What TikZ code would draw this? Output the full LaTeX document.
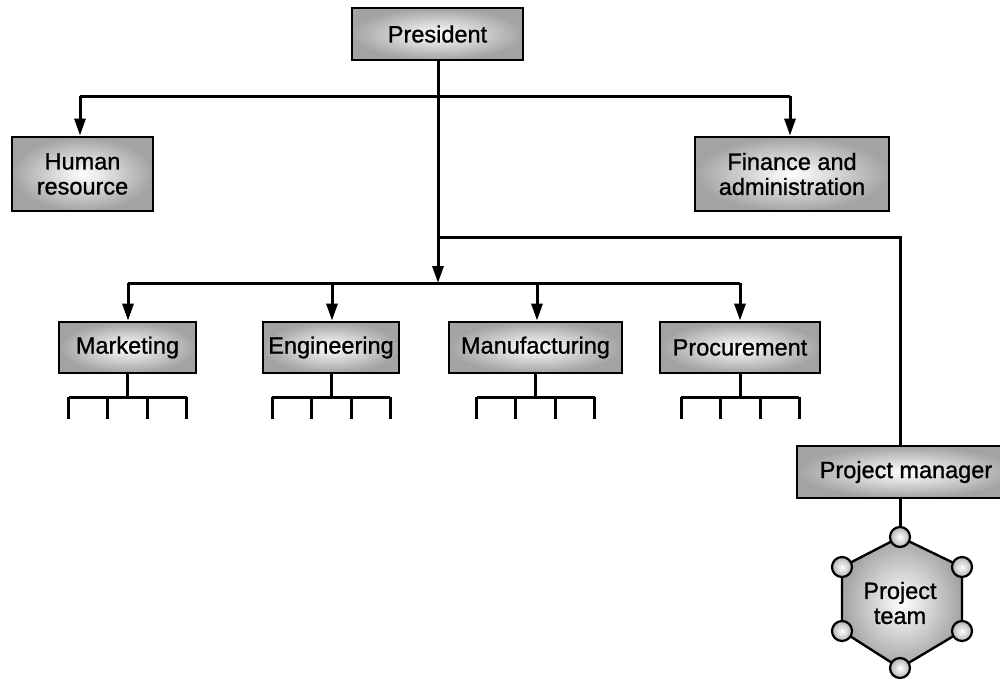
\documentclass[tikz,border=0pt]{standalone}
\usepackage{fontspec}
\setmainfont{Liberation Sans}[FakeBold=1.0]
\usetikzlibrary{arrows.meta}
\begin{document}
\begin{tikzpicture}[x=1pt,y=-1pt,
  line/.style={line width=3pt, line join=miter},
  arr/.style={line, -{Triangle[length=17pt,width=11pt]}},
  lbl/.style={font=\fontsize{23.5}{25}\selectfont, align=center, text=black},
  unit/.style={lbl, draw, line width=2.8pt, rectangle, inner sep=0pt,
    shading=radial, inner color=white, outer color=black!36},
  dot/.style={circle, draw, line width=2.2pt, minimum size=20pt, inner sep=0pt,
    shading=radial, inner color=white, outer color=black!30},
]
\useasboundingbox (0,0) rectangle (1000,681);

% top level
\node[unit, minimum width=171pt, minimum height=52pt] (pres) at (437.5,34) {President};
\node[unit, minimum width=141pt, minimum height=74pt] (hr) at (82.5,174) {Human\\resource};
\node[unit, minimum width=194pt, minimum height=74pt] (fin) at (792,174) {Finance and\\administration};

% functional departments
\node[unit, minimum width=137pt, minimum height=51pt] (mkt) at (127.5,347.5) {Marketing};
\node[unit, minimum width=136pt, minimum height=51pt] (eng) at (331,347.5) {Engineering};
\node[unit, minimum width=173pt, minimum height=51pt] (man) at (535.5,347.5) {Manufacturing};
\node[unit, minimum width=160pt, minimum height=51pt] (proc) at (740,347.5) {Procurement};

% project branch (box runs past the right edge of the page)
\node[unit, minimum width=218pt, minimum height=52pt] (pm) at (906,472) {Project manager};

% junction points of the connector buses
\coordinate (staffL) at (80,96);
\coordinate (staffR) at (790,96);
\coordinate (projJ) at (438,237);
\coordinate (projC) at (900,237);
\coordinate (busM) at (438,283);
\coordinate (busL) at (128,283);
\coordinate (busR) at (740,283);

% staff units
\draw[line] (staffL) -- (staffR);
\draw[arr] (staffL) -- (staffL |- hr.north);
\draw[arr] (staffR) -- (staffR |- fin.north);

% president down to the department bus
\draw[arr] (pres.south -| busM) -- (busM);
\draw[line] (busL) -- (busR);
\draw[arr] (busL) -- (busL |- mkt.north);
\draw[arr] ([xshift=1pt]eng.north |- busM) -- ([xshift=1pt]eng.north);
\draw[arr] ([xshift=1.5pt]man.north |- busM) -- ([xshift=1.5pt]man.north);
\draw[arr] (busR) -- (busR |- proc.north);

% branch to the project manager
\draw[line] (projJ) -- (projC) -- (projC |- pm.north);

% sub-units under each department
\foreach \n in {mkt,eng,man,proc} {
  \draw[line] (\n.south) -- ++(0,23) coordinate (\n-bar);
  \draw[line] ([xshift=-59pt]\n-bar) -- ([xshift=59pt]\n-bar);
  \foreach \dx in {-59,-20,20,59}
    \draw[line] ([xshift=\dx pt]\n-bar) -- ++(0,22);
}

% project team hexagon
\draw[line width=2.4pt, shading=radial, inner color=white, outer color=black!36]
  (900,537) -- (962,567) -- (962,631) -- (900,668) -- (842,631) -- (842,567) -- cycle;
\node[lbl] (team) at (900,603) {Project\\team};
\node[dot] (t1) at (900,537) {};
\node[dot] (t2) at (962,567) {};
\node[dot] (t3) at (962,631) {};
\node[dot] (t4) at (900,668) {};
\node[dot] (t5) at (842,631) {};
\node[dot] (t6) at (842,567) {};
\draw[line] (pm.south -| t1) -- (t1);
\end{tikzpicture}
\end{document}
